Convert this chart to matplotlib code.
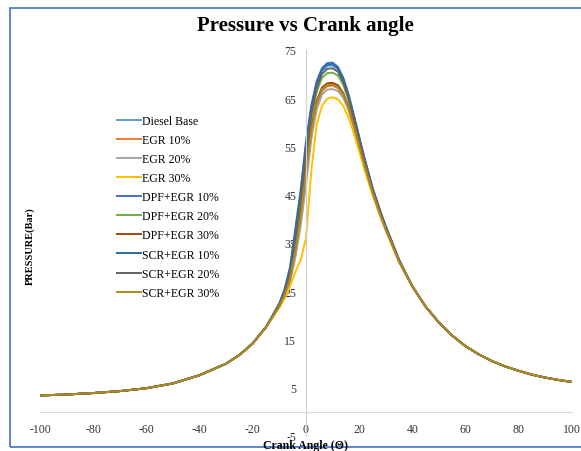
import matplotlib
matplotlib.use("Agg")
import matplotlib.pyplot as plt
from matplotlib.patches import Rectangle

plt.rcParams['font.family'] = ['Liberation Serif', 'DejaVu Serif']
plt.rcParams['axes.unicode_minus'] = False

# crank angle grid: left tail, combustion region, right tail
angle_left = [-100, -90, -80, -70, -60, -50, -40, -30, -25, -20, -15]
angle_mid = [-10, -8, -6, -4, -2, 0, 2, 4, 6, 8, 10, 12, 14, 16, 18, 20, 22, 25, 28, 30, 35]
angle_right = [40, 45, 50, 55, 60, 65, 70, 75, 80, 85, 90, 95, 100]

# compression / expansion tails are the same for all runs
p_left = [3.4, 3.6, 3.9, 4.3, 4.9, 5.9, 7.6, 10.0, 11.8, 14.2, 17.6]
p_right = [26, 21.8, 18.5, 15.8, 13.6, 11.9, 10.5, 9.4, 8.5, 7.7, 7.1, 6.6, 6.2]

diesel_base = [22.3, 25.1, 29.2, 36.6, 44.6, 54.6, 62.5, 67.7, 70.6, 71.7, 71.8, 71, 68.8, 65.4, 61.2, 56.7, 52.3, 46.3, 41.3, 38.3, 31.4]
egr_10 = [21.9, 24.2, 27.3, 33, 40, 49, 57.8, 63.6, 66.5, 67.5, 67.6, 67.1, 65.6, 62.9, 59.2, 55.1, 51, 45.4, 40.7, 37.8, 31.2]
egr_20 = [21.8, 24, 26.8, 32, 38.5, 47, 56.5, 62.6, 65.8, 66.8, 66.9, 66.5, 65.1, 62.5, 58.9, 54.9, 50.8, 45.3, 40.6, 37.7, 31.1]
egr_30 = [21.6, 23.6, 26, 29, 31.5, 36, 50, 59.5, 63.4, 64.9, 65.2, 64.8, 63.4, 61, 57.7, 54, 50.2, 45, 40.4, 37.6, 31]
dpf_10 = [22.5, 25.5, 30, 38, 46, 56, 63.5, 68.5, 71.2, 72.3, 72.4, 71.5, 69.3, 65.8, 61.5, 57, 52.6, 46.5, 41.5, 38.5, 31.5]
dpf_20 = [22.1, 24.7, 28.3, 35, 42.8, 52.8, 61, 66.3, 69.2, 70.2, 70.3, 69.7, 67.8, 64.6, 60.5, 56.2, 51.9, 46, 41.1, 38.1, 31.3]
dpf_30 = [22, 24.4, 27.8, 33.8, 41.2, 50.5, 59, 64.4, 67.2, 68.1, 68.2, 67.7, 66.1, 63.3, 59.5, 55.4, 51.3, 45.6, 40.8, 37.9, 31.2]
scr_10 = [22.4, 25.3, 29.6, 37.3, 45.3, 55.3, 63, 68.1, 70.9, 72, 72.1, 71.2, 69, 65.6, 61.3, 56.8, 52.4, 46.4, 41.4, 38.4, 31.5]
scr_20 = [22.2, 24.9, 28.8, 35.8, 43.8, 53.8, 61.8, 67.1, 70, 71.1, 71.2, 70.5, 68.4, 65.1, 60.9, 56.5, 52.1, 46.2, 41.2, 38.2, 31.4]
scr_30 = [21.9, 24.3, 27.5, 33.3, 40.5, 49.6, 58.3, 63.9, 66.8, 67.7, 67.8, 67.3, 65.8, 63, 59.3, 55.2, 51.1, 45.5, 40.7, 37.8, 31.2]

labels = ["Diesel Base", "EGR 10%", "EGR 20%", "EGR 30%", "DPF+EGR 10%",
          "DPF+EGR 20%", "DPF+EGR 30%", "SCR+EGR 10%", "SCR+EGR 20%", "SCR+EGR 30%"]
series = [diesel_base, egr_10, egr_20, egr_30, dpf_10, dpf_20, dpf_30, scr_10, scr_20, scr_30]
colors = ["#5B9BD5", "#ED7D31", "#A5A5A5", "#FFC000", "#4472C4",
          "#70AD47", "#9E480E", "#2F6CA8", "#636363", "#B08A1E"]

angles = angle_left + angle_mid + angle_right

fig = plt.figure(figsize=(5.81, 4.52), dpi=100)
ax = fig.add_axes([0.0688, 0.0332, 0.9157, 0.854])

for lab, vals, c in zip(labels, series, colors):
    ax.plot(angles, p_left + vals + p_right, color=c, lw=1.4, label=lab)

ax.set_xlim(-100, 100)
ax.set_ylim(-5, 75)
ax.set_xticks(range(-100, 101, 20))
ax.set_yticks(range(-5, 76, 10))

for s in ["top", "right"]:
    ax.spines[s].set_visible(False)
ax.spines["left"].set_position(("data", 0))
ax.spines["bottom"].set_position(("data", 0))
ax.spines["left"].set_color("#C9CFDB")
ax.spines["bottom"].set_color("#D9D9D9")
ax.tick_params(axis="both", length=0, labelsize=8.5, labelcolor="#333333")
ax.tick_params(axis="x", pad=8)
ax.tick_params(axis="y", pad=7)
ax.set_facecolor("none")

fig.text(0.525, 0.943, "Pressure vs Crank angle", ha="center", va="center",
         fontsize=15, fontweight="bold")
fig.text(0.525, 0.013, "Crank Angle (\u0398)", ha="center", va="center",
         fontsize=8.5, fontweight="bold")
fig.text(0.052, 0.456, "PRESSURE(Bar)", ha="center", va="center", rotation=90,
         fontsize=7.5, fontweight="bold")

leg = fig.legend(loc="upper left", bbox_to_anchor=(117 / 581, 1 - 116 / 452),
                 frameon=False, fontsize=8.5, handlelength=2.0, handletextpad=0.15,
                 labelspacing=0.6, borderpad=0, borderaxespad=0)

fig.patches.append(Rectangle((10 / 581, 4 / 452), 590 / 581, 439 / 452,
                             transform=fig.transFigure, fill=False,
                             edgecolor="#4472C4", lw=1.2, clip_on=False))

fig.savefig("out.png", dpi=100)
